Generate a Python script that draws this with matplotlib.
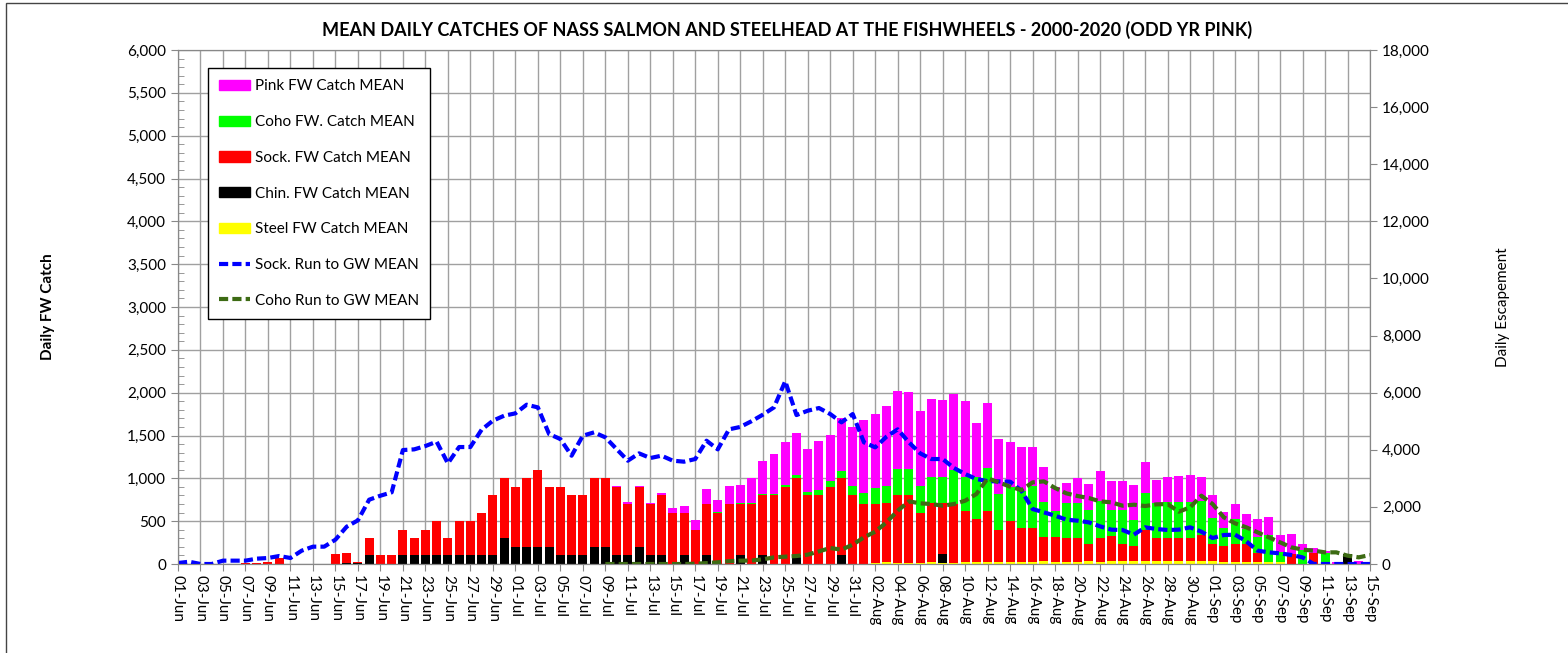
import numpy as np
import pandas as pd
import matplotlib
matplotlib.use("Agg")
import matplotlib.pyplot as plt
from matplotlib.patches import Patch, Rectangle
from matplotlib.lines import Line2D
from matplotlib.ticker import FuncFormatter, MultipleLocator

plt.rcParams['font.family'] = ['Lato', 'DejaVu Sans']

# days 01-Jun .. 15-Sep
dates = pd.date_range("2020-06-01", "2020-09-15")
day_labels = [d.strftime("%d-%b") for d in dates]

# fishwheel catches (stack order bottom -> top)
steel = [0] * 62 + [10, 20, 10, 10, 10, 20, 10, 10, 20, 20, 20, 20, 20, 20, 20, 30, 20, 20, 20, 30,
                    20, 30, 30, 30, 30, 30, 30, 30, 30, 40, 40, 20, 20, 20, 20, 20, 20, 0, 0, 0,
                    0, 0, 0, 0, 0]
chin = [0] * 11 + [5, 5, 5, 0, 15, 15, 100, 0, 0, 100, 100, 100, 100, 100, 100, 100, 100, 100, 300,
                   200, 200, 200, 200, 100, 100, 100, 200, 200, 100, 100, 200, 100, 100, 0, 100, 0, 100,
                   0, 0, 110, 0, 100, 0, 0, 110, 0, 0, 0, 100] + [0] * 8 + [110] + [0] * 35 + [115, 0, 0]
sock = [0, 0, 0, 0, 0, 0, 15, 15, 20, 70, 0, 0, 0, 0, 120, 115, 5, 200, 100, 100,
        300, 200, 300, 400, 200, 400, 400, 500, 700, 700, 700, 800, 900, 700, 800, 700, 700, 800, 800, 800,
        600, 700, 600, 700, 600, 500, 400, 600, 600, 700, 590, 700, 700, 800, 900, 890, 800, 800, 900, 900,
        800, 700, 690, 695, 790, 790, 590, 695, 595, 690, 595, 500, 595, 380, 480, 395, 395, 290, 300, 280,
        280, 200, 280, 300, 200, 185, 370, 270, 270, 270, 270, 300, 195, 195, 210, 210, 105, 0, 0, 115,
        0, 124, 0, 0, 0, 0, 0]
coho = [0] * 48 + [10, 0, 10, 10, 15, 20, 25, 40, 35, 60, 65, 85, 115, 130, 185, 200, 310, 310, 310, 305,
                   305, 400, 400, 490, 505, 417, 400, 440, 500, 405, 300, 415, 415, 400, 440, 300, 400, 300,
                   430, 415, 427, 427, 427, 395, 302, 204, 292, 183, 195, 320, 120, 0, 160, 0, 124, 0, 0,
                   0, 0]
pink = [0] * 36 + [10, 0, 0, 15, 20, 15, 15, 30, 50, 75, 115, 180, 140, 215, 216, 290, 385, 465, 500, 490,
                   510, 580, 540, 615, 690, 850, 870, 930, 910, 900, 880, 910, 890, 880, 885, 640, 763, 646,
                   520, 510, 445, 410, 280, 230, 290, 300, 345, 340, 340, 410, 365, 270, 290, 300, 312, 280,
                   272, 187, 175, 175, 202, 205, 195, 235, 70, 62, 27, 27, 0, 35, 0]

# runs to Gitwinksihlkw (secondary axis)
sock_run = [35, 80, 0, 0, 117, 117, 117, 187, 210, 280, 210, 467, 607, 607, 852, 1307, 1529, 2252, 2392, 2509,
            3991, 4014, 4131, 4283, 3524, 4096, 4096, 4703, 5018, 5193, 5275, 5578, 5485, 4551, 4376, 3793,
            4493, 4610, 4435, 4026, 3618, 3874, 3711, 3793, 3618, 3583, 3676, 4318, 4014, 4715, 4800, 5000,
            5228, 5485, 6400, 5216, 5368, 5462, 5251, 4960, 5251, 4260, 4085, 4458, 4715, 4260, 3874, 3676,
            3676, 3361, 3151, 2976, 2900, 2894, 2882, 2567, 1925, 1809, 1692, 1552, 1517, 1458, 1318, 1202,
            1190, 1027, 1284, 1225, 1190, 1202, 1284, 1132, 910, 1015, 1027, 794, 467, 408, 373, 315, 233,
            0, 0, 0, 0, 0, 0]
coho_run = [np.nan] * 38 + [0, 0, 0, 0, 0, 0, 0, 0, 10, 30, 60, 100, 117, 120, 163, 233, 257, 280, 327, 443,
                            560, 502, 677, 934, 1132, 1459, 1867, 2194, 2124, 2100, 2042, 2100, 2217, 2451,
                            2999, 2859, 2707, 2590, 2859, 2894, 2660, 2474, 2380, 2310, 2194, 2159, 2042, 2077,
                            2030, 2089, 2100, 1832, 1984, 2392, 2100, 1634, 1424, 1284, 1109, 934, 759, 584,
                            502, 467, 408, 408, 292, 233, 315]

x = np.arange(len(dates))
steel = np.array(steel, float)
chin = np.array(chin, float)
sock = np.array(sock, float)
coho = np.array(coho, float)
pink = np.array(pink, float)

fig = plt.figure(figsize=(15.68, 6.53), dpi=100)
ax = fig.add_axes([178 / 1568, 1 - 564 / 653, (1370 - 178) / 1568, 514 / 653])
ax2 = ax.twinx()

w = 0.8
b = np.zeros(len(x))
for vals, col in [(steel, "#FFFF00"), (chin, "#000000"), (sock, "#FF0000"), (coho, "#00FF00"), (pink, "#FF00FF")]:
    ax.bar(x, vals, w, bottom=b, color=col, linewidth=0, zorder=2)
    b = b + vals

ax2.plot(x, sock_run, color="#0000FF", lw=3, dashes=(2.2, 1.0))
ax2.plot(x, coho_run, color="#3D6B14", lw=3, dashes=(2.2, 1.0))

ax.set_xlim(0, len(x) - 1)
ax.set_ylim(0, 6000)
ax2.set_ylim(0, 18000)
ax.yaxis.set_major_locator(MultipleLocator(500))
ax.yaxis.set_minor_locator(MultipleLocator(100))
ax2.yaxis.set_major_locator(MultipleLocator(2000))
comma = FuncFormatter(lambda v, p: f"{int(v):,}")
ax.yaxis.set_major_formatter(comma)
ax2.yaxis.set_major_formatter(comma)

ax.set_xticks(x[::2])
ax.set_xticklabels(day_labels[::2], rotation=270, fontsize=11)
ax.tick_params(axis="y", which="major", labelsize=11, direction="out", length=5, color="#888888")
ax.tick_params(axis="y", which="minor", direction="in", length=4, color="#888888")
ax.tick_params(axis="x", direction="out", length=5, color="#888888", pad=3)
ax2.tick_params(axis="y", labelsize=11, direction="out", length=5, color="#888888")

ax.set_axisbelow(True)
ax.grid(True, which="major", color="#A0A0A0", lw=1.0)
for a in (ax, ax2):
    for s in a.spines.values():
        s.set_color("#888888")

ax.set_ylabel("Daily FW Catch", fontsize=11, fontweight="bold", labelpad=52)
ax2.set_ylabel("Daily Escapement", fontsize=11, labelpad=48)

fig.text(787 / 1568, 1 - 30 / 653, "MEAN DAILY CATCHES OF NASS SALMON AND STEELHEAD AT THE FISHWHEELS - 2000-2020 (ODD YR PINK)",
         ha="center", va="center", fontsize=13, fontweight="bold")

handles = [Patch(color="#FF00FF"), Patch(color="#00FF00"), Patch(color="#FF0000"),
           Patch(color="#000000"), Patch(color="#FFFF00"),
           Line2D([], [], color="#0000FF", lw=3, dashes=(2.2, 1.0)),
           Line2D([], [], color="#3D6B14", lw=3, dashes=(2.2, 1.0))]
labels = ["Pink FW Catch MEAN", "Coho FW. Catch MEAN", "Sock. FW Catch MEAN", "Chin. FW Catch MEAN",
          "Steel FW Catch MEAN", "Sock. Run to GW MEAN", "Coho Run to GW MEAN"]
leg = ax2.legend(handles, labels, loc="upper left", bbox_to_anchor=(30 / 1192, 496 / 514),
                 borderaxespad=0, fontsize=11, labelspacing=1.42, handlelength=2.0, handleheight=0.65,
                 handletextpad=0.3, borderpad=0.75, fancybox=False, framealpha=1, edgecolor="black")
leg.get_frame().set_linewidth(1.0)

fig.patches.append(Rectangle((6 / 1568, -0.05), 1.2, 1.05 - 3 / 653, transform=fig.transFigure,
                             fill=False, edgecolor="#444444", lw=1.0))

fig.savefig("out.png", dpi=100)
